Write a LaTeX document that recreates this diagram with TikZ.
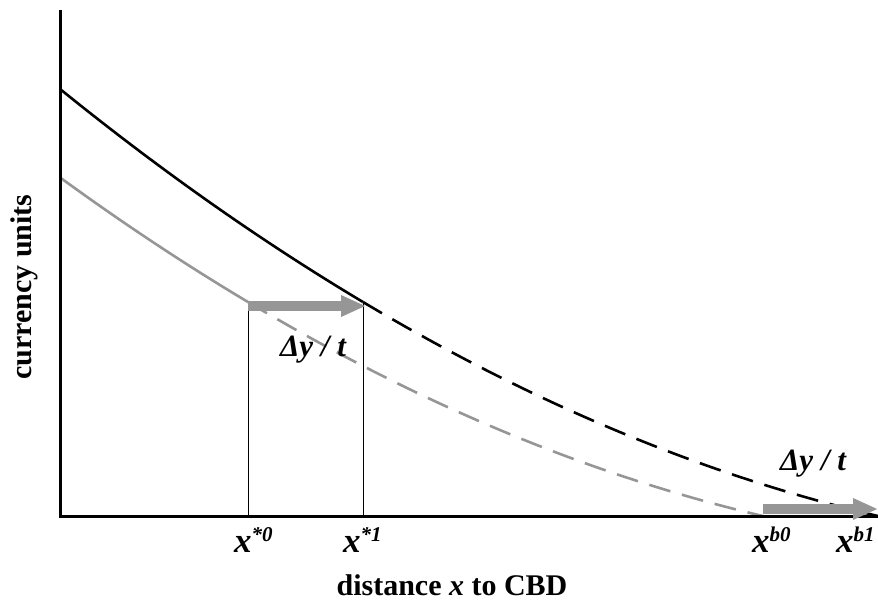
\documentclass[tikz,border=0pt]{standalone}
\usepackage{fontspec}
\setmainfont{Liberation Serif}
\usetikzlibrary{arrows.meta}
\definecolor{curvegray}{RGB}{150,150,150}
\newcommand{\supx}[1]{x\raisebox{11pt}{\fontsize{21}{23}\selectfont #1}}
\begin{document}
\begin{tikzpicture}[x=1pt,y=-1pt,
  axis/.style={line width=3pt},
  blackcurve/.style={line width=2.6pt,black},
  graycurve/.style={line width=2.6pt,curvegray},
  dashpat/.style={dash pattern=on 22pt off 12pt},
  guide/.style={line width=0.8pt},
  shiftarrow/.style={line width=10pt,curvegray,-{Triangle[length=25pt,width=20pt]}},
  tick/.style={font=\fontsize{35}{37}\selectfont\bfseries\itshape,anchor=base west,inner sep=0pt},
  lab/.style={font=\fontsize{30}{32}\selectfont\bfseries,anchor=base,inner sep=0pt},
  delta/.style={font=\fontsize{31}{33}\selectfont\bfseries\itshape}]
\useasboundingbox (0,0) rectangle (878,601);
% axes and key points
\coordinate (top) at (60,10);
\coordinate (origin) at (60,516);
\coordinate (xend) at (878,516);
\coordinate (A1) at (363,302);
\coordinate (A0) at (248,302);
\coordinate (x0base) at (248,516);
\coordinate (x1base) at (363,516);
\coordinate (arr1s) at (248,306);
\coordinate (arr1e) at (366,306);
\coordinate (arr2s) at (763,509);
\coordinate (arr2e) at (878,509);
% black curve (solid then dashed)
\draw[blackcurve] plot[domain=0:3.03,samples=60,smooth] ({60+100*\x},{89+80.95*\x-3.514*\x*\x});
\draw[blackcurve,dashpat] plot[domain=3.03:8.18,samples=80,smooth] ({60+100*\x},{89+80.95*\x-3.514*\x*\x});
% gray curve = black shifted left by 115
\draw[graycurve] plot[domain=1.15:3.03,samples=60,smooth] ({60+100*\x-115},{89+80.95*\x-3.514*\x*\x});
\draw[graycurve,dashpat] plot[domain=3.03:8.18,samples=80,smooth] ({60+100*\x-115},{89+80.95*\x-3.514*\x*\x});
% guide lines
\draw[guide] (A0) -- (x0base);
\draw[guide] (A1) -- (x1base);
% axes
\draw[axis] (top) -- (origin) -- (xend);
% shift arrows
\draw[shiftarrow] (arr1s) -- (arr1e);
\draw[shiftarrow] (arr2s) -- (arr2e);
% labels
\node[tick] (lx0) at (234,552) {\supx{*0}};
\node[tick] (lx1) at (343,552) {\supx{*1}};
\node[tick] (lb0) at (752,552) {\supx{b0}};
\node[tick] (lb1) at (836,552) {\supx{b1}};
\node[delta] (d1) at (313,350) {Δy / t};
\node[delta] (d2) at (813,464) {Δy / t};
\node[lab] (xl) at (452,595) {distance \textit{x} to CBD};
\node[lab,rotate=90] (yl) at (31,287) {currency units};
\end{tikzpicture}
\end{document}
